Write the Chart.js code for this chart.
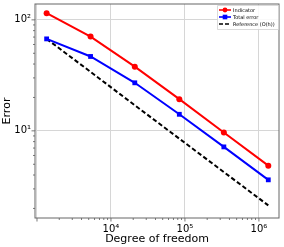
<!DOCTYPE html>
<html>
<head>
<meta charset="utf-8">
<script src="https://cdn.jsdelivr.net/npm/chart.js@4.4.0/dist/chart.umd.min.js"></script>
<style>
body { margin: 0; background: #fff; }
#wrap { width: 284px; height: 247px; }
</style>
</head>
<body>
<div id="wrap"><canvas id="myChart"></canvas></div>
<script>
// values
var dof = [1350, 5300, 21000, 84000, 336000, 1340000];
var indicator = [115, 70.7, 37.9, 19.3, 9.66, 4.86];
var totalError = [67.4, 46.8, 27.1, 14.1, 7.17, 3.62];
var reference = [67.4, 34.0, 17.0, 8.5, 4.25, 2.13];

var seriesNames = ["Indicator", "Total error", "Reference (O(h))"];
var xTicks = [10000, 100000, 1000000];
var xTickLabels = ["10\u2074", "10\u2075", "10\u2076"];
var yTicks = [10, 100];
var yTickLabels = ["10\u00b9", "10\u00b2"];

function pts(ys) {
  return ys.map(function(y, i) { return { x: dof[i], y: y }; });
}

function isMajor(v) {
  var l = Math.log10(v);
  return Math.abs(l - Math.round(l)) < 1e-6;
}

function labelFor(v, ticks, labels) {
  for (var i = 0; i < ticks.length; i++) {
    if (Math.abs(v - ticks[i]) / ticks[i] < 1e-6) return labels[i];
  }
  return "";
}

// 1..9 x 10^n inside the axis range
function logTicks(scale) {
  var t = [];
  for (var e = -2; e < 9; e++) {
    for (var m = 1; m < 10; m++) {
      var v = m * Math.pow(10, e);
      if (v >= scale.min && v <= scale.max) t.push({ value: v });
    }
  }
  scale.ticks = t;
}

var frameAndTicks = {
  id: "frameAndTicks",
  afterDatasetsDraw: function(chart) {
    var c = chart.ctx, a = chart.chartArea;
    c.save();
    c.strokeStyle = "#555";
    c.lineWidth = 0.8;
    chart.scales.x.ticks.forEach(function(t) {
      var px = chart.scales.x.getPixelForValue(t.value);
      var len = isMajor(t.value) ? 3.5 : 2;
      c.beginPath(); c.moveTo(px, a.bottom); c.lineTo(px, a.bottom + len); c.stroke();
    });
    chart.scales.y.ticks.forEach(function(t) {
      var py = chart.scales.y.getPixelForValue(t.value);
      var len = isMajor(t.value) ? 3.5 : 2;
      c.beginPath(); c.moveTo(a.left, py); c.lineTo(a.left - len, py); c.stroke();
    });
    c.strokeStyle = "#666";
    c.lineWidth = 1;
    c.strokeRect(a.left, a.top, a.right - a.left, a.bottom - a.top);
    c.restore();
  },
  afterDraw: function(chart) {
    var c = chart.ctx, a = chart.chartArea;
    var w = 61, h = 24, x = a.right - w - 1, y = a.top + 1;
    c.save();
    c.fillStyle = "rgba(255,255,255,0.85)";
    c.strokeStyle = "#d0d0d0";
    c.lineWidth = 0.8;
    c.beginPath();
    c.rect(x + 0.5, y + 0.5, w, h);
    c.fill(); c.stroke();
    c.font = "5px 'DejaVu Sans'";
    c.textBaseline = "middle";
    chart.data.datasets.forEach(function(ds, i) {
      var ly = y + 5 + i * 7;
      c.strokeStyle = ds.borderColor;
      c.lineWidth = 1.6;
      c.setLineDash(ds.borderDash ? [4, 2] : []);
      c.beginPath(); c.moveTo(x + 2, ly); c.lineTo(x + 14, ly); c.stroke();
      c.setLineDash([]);
      c.fillStyle = ds.borderColor;
      if (ds.pointStyle === "circle") {
        c.beginPath(); c.arc(x + 8, ly, 2.4, 0, Math.PI * 2); c.fill();
      } else if (ds.pointStyle === "rect") {
        c.fillRect(x + 5.7, ly - 2.3, 4.6, 4.6);
      }
      c.fillStyle = "#000";
      c.fillText(seriesNames[i], x + 16, ly + 0.3);
    });
    c.restore();
  }
};

var ctx = document.getElementById("myChart");

var chart = new Chart(ctx, {
  type: "line",
  data: {
    datasets: [
      {
        label: seriesNames[0],
        data: pts(indicator),
        borderColor: "#ff0000",
        backgroundColor: "#ff0000",
        borderWidth: 2,
        pointStyle: "circle",
        pointRadius: 3,
        pointBorderWidth: 0
      },
      {
        label: seriesNames[1],
        data: pts(totalError),
        borderColor: "#0000ff",
        backgroundColor: "#0000ff",
        borderWidth: 2,
        pointStyle: "rect",
        pointRadius: 3.4,
        pointBorderWidth: 0
      },
      {
        label: seriesNames[2],
        data: pts(reference),
        borderColor: "#000000",
        backgroundColor: "#000000",
        borderWidth: 2,
        borderDash: [4.5, 2.5],
        pointRadius: 0
      }
    ]
  },
  options: {
    responsive: true,
    maintainAspectRatio: false,
    devicePixelRatio: 1,
    animation: false,
    events: [],
    layout: { padding: { top: 4, right: 5, bottom: 0, left: 0 } },
    plugins: {
      legend: { display: false },
      tooltip: { enabled: false }
    },
    scales: {
      x: {
        type: "logarithmic",
        min: 940,
        max: 1870000,
        afterBuildTicks: logTicks,
        afterFit: function(s) { s.height = 29; s.paddingLeft = 0; s.paddingRight = 0; },
        border: { display: false },
        grid: {
          drawTicks: false,
          color: function(c) { return c.tick && isMajor(c.tick.value) ? "#d6d6d6" : "rgba(0,0,0,0)"; },
          lineWidth: 1
        },
        ticks: {
          autoSkip: false,
          maxRotation: 0,
          padding: 5,
          color: "#000",
          font: { family: "'DejaVu Sans'", size: 10 },
          callback: function(v) { return labelFor(v, xTicks, xTickLabels); }
        },
        title: {
          display: true,
          text: "Degree of freedom",
          color: "#000",
          font: { family: "'DejaVu Sans'", size: 11 },
          padding: { top: 0, bottom: 1 }
        }
      },
      y: {
        type: "logarithmic",
        min: 1.64,
        max: 139,
        afterBuildTicks: logTicks,
        afterFit: function(s) { s.width = 35; s.paddingTop = 0; s.paddingBottom = 0; },
        border: { display: false },
        grid: {
          drawTicks: false,
          color: function(c) { return c.tick && isMajor(c.tick.value) ? "#d6d6d6" : "rgba(0,0,0,0)"; },
          lineWidth: 1
        },
        ticks: {
          autoSkip: false,
          padding: 4,
          color: "#000",
          font: { family: "'DejaVu Sans'", size: 10 },
          callback: function(v) { return labelFor(v, yTicks, yTickLabels); }
        },
        title: {
          display: true,
          text: "Error",
          color: "#000",
          font: { family: "'DejaVu Sans'", size: 11 },
          padding: { top: 1, bottom: 0 }
        }
      }
    }
  },
  plugins: [frameAndTicks]
});
</script>
</body>
</html>
